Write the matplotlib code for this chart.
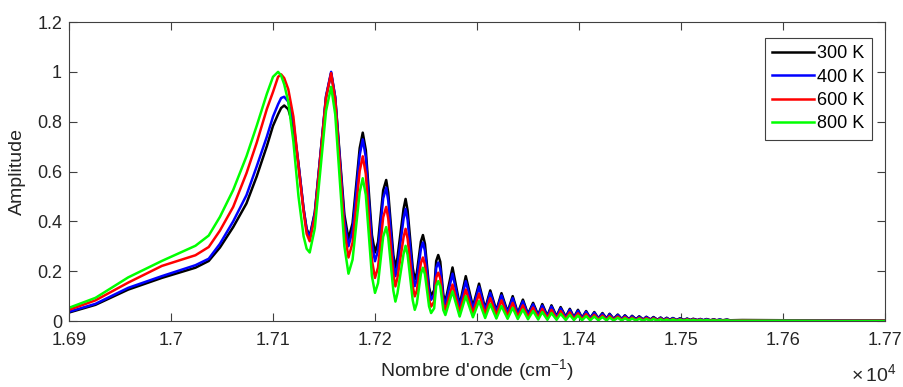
import numpy as np
import matplotlib
matplotlib.use('Agg')
import matplotlib.pyplot as plt
from matplotlib.ticker import FuncFormatter

plt.rcParams['font.family'] = ['Liberation Sans', 'DejaVu Sans']
plt.rcParams['mathtext.default'] = 'regular'

# wavenumber grid: broad rise, main peak and the first big oscillations (cm-1)
head_wn = [16900, 16926, 16958, 16991, 17024, 17037, 17048, 17061, 17074, 17084,
           17094, 17100, 17105, 17108, 17111, 17115, 17120, 17125, 17130, 17133,
           17136, 17141, 17152, 17157, 17161, 17170, 17174, 17178, 17185, 17188,
           17191, 17197, 17200, 17203, 17208, 17211, 17213, 17218, 17220, 17222,
           17228, 17230, 17232, 17237, 17239, 17241, 17245, 17247, 17249, 17253,
           17255, 17258, 17260, 17262, 17264, 17267, 17269]

head_300 = [0.034, 0.065, 0.126, 0.173, 0.214, 0.241, 0.295, 0.377, 0.472, 0.58,
            0.702, 0.783, 0.83, 0.855, 0.865, 0.85, 0.78, 0.63, 0.45, 0.37,
            0.34, 0.436, 0.899, 0.995, 0.898, 0.427, 0.33, 0.392, 0.694, 0.756,
            0.686, 0.345, 0.275, 0.317, 0.524, 0.566, 0.515, 0.265, 0.214, 0.254,
            0.450, 0.49, 0.443, 0.214, 0.167, 0.193, 0.319, 0.345, 0.309, 0.136,
            0.10, 0.124, 0.241, 0.265, 0.238, 0.105, 0.078]
head_400 = [0.037, 0.069, 0.133, 0.180, 0.224, 0.25, 0.31, 0.40, 0.505, 0.62,
            0.74, 0.82, 0.87, 0.895, 0.90, 0.88, 0.80, 0.63, 0.45, 0.365,
            0.335, 0.432, 0.903, 1.0, 0.898, 0.402, 0.30, 0.363, 0.666, 0.729,
            0.658, 0.311, 0.24, 0.283, 0.492, 0.535, 0.483, 0.232, 0.18, 0.219,
            0.411, 0.45, 0.405, 0.185, 0.14, 0.166, 0.289, 0.315, 0.281, 0.119,
            0.085, 0.107, 0.213, 0.235, 0.210, 0.091, 0.066]
head_600 = [0.045, 0.083, 0.154, 0.221, 0.264, 0.297, 0.363, 0.458, 0.593, 0.715,
            0.851, 0.919, 0.98, 0.99, 0.975, 0.93, 0.82, 0.62, 0.44, 0.35,
            0.32, 0.419, 0.896, 0.995, 0.887, 0.363, 0.255, 0.314, 0.602, 0.661,
            0.590, 0.244, 0.173, 0.215, 0.416, 0.458, 0.411, 0.186, 0.139, 0.173,
            0.336, 0.37, 0.330, 0.139, 0.099, 0.122, 0.232, 0.255, 0.226, 0.087,
            0.058, 0.078, 0.174, 0.194, 0.172, 0.067, 0.045]
head_800 = [0.053, 0.093, 0.175, 0.241, 0.302, 0.343, 0.418, 0.526, 0.661, 0.783,
            0.912, 0.98, 1.0, 0.985, 0.95, 0.88, 0.72, 0.50, 0.34, 0.29,
            0.275, 0.372, 0.843, 0.94, 0.830, 0.300, 0.19, 0.246, 0.517, 0.573,
            0.506, 0.180, 0.113, 0.152, 0.338, 0.377, 0.333, 0.122, 0.078, 0.111,
            0.269, 0.302, 0.265, 0.083, 0.045, 0.070, 0.189, 0.214, 0.187, 0.059,
            0.032, 0.051, 0.141, 0.16, 0.140, 0.044, 0.024]

# damped ripple tail: peak and trough positions
peak_wn = [17276, 17289, 17302, 17313, 17324, 17335, 17345, 17355,
           17364, 17373, 17382, 17391, 17399, 17407, 17415, 17423, 17430, 17438,
           17445, 17452, 17459, 17466, 17473, 17480, 17486, 17492, 17499, 17506,
           17512, 17519, 17525, 17532, 17538, 17545]
trough_wn = [17283, 17296, 17308, 17319, 17330, 17340, 17350, 17360,
             17369, 17378, 17387, 17395, 17403, 17411, 17419, 17427, 17434, 17442,
             17449, 17456, 17463, 17470, 17477, 17483, 17489, 17496, 17503, 17509,
             17516, 17522, 17529, 17535, 17541, 17548]

peaks_300 = [.215, .18, .15, .123, .112, .100, .086, .073,
             .068, .063, .056, .049, .045, .040, .036, .032, .029, .026,
             .023, .021, .019, .017, .016, .014, .013, .012, .011, .010,
             .009, .008, .008, .007, .006, .006]
troughs_300 = [.065, .058, .050, .042, .037, .032, .028, .024,
               .021, .019, .017, .015, .013, .012, .011, .010, .009, .008,
               .007, .007, .006, .006, .005, .005, .005, .004, .004, .004,
               .004, .003, .003, .003, .003, .003]
peaks_400 = [.19, .16, .138, .113, .103, .092, .079, .067,
             .062, .058, .051, .045, .041, .037, .033, .029, .027, .024,
             .021, .019, .017, .016, .014, .013, .012, .011, .010, .009,
             .008, .008, .007, .006, .006, .005]
troughs_400 = [.055, .048, .042, .036, .031, .027, .024, .020,
               .018, .016, .014, .013, .011, .010, .009, .008, .007, .007,
               .006, .006, .005, .005, .004, .004, .004, .003, .003, .003,
               .003, .003, .002, .002, .002, .002]
peaks_600 = [.146, .126, .11, .092, .083, .073, .063, .054,
             .049, .045, .040, .035, .031, .028, .025, .022, .020, .018,
             .016, .014, .013, .012, .011, .010, .009, .008, .007, .007,
             .006, .006, .005, .005, .004, .004]
troughs_600 = [.036, .031, .027, .023, .020, .017, .015, .013,
               .011, .010, .009, .008, .007, .006, .006, .005, .005, .004,
               .004, .003, .003, .003, .003, .002, .002, .002, .002, .002,
               .002, .001, .001, .001, .001, .001]
peaks_800 = [.119, .10, .08, .068, .060, .053, .046, .040,
             .036, .032, .029, .025, .022, .020, .018, .016, .014, .013,
             .011, .010, .009, .008, .008, .007, .006, .006, .005, .005,
             .004, .004, .004, .003, .003, .003]
troughs_800 = [.018, .015, .012, .010, .009, .008, .007, .006,
               .005, .005, .004, .004, .003, .003, .003, .002, .002, .002,
               .002, .002, .001, .001, .001, .001, .001, .001, .001, .001,
               .001, .001, .001, .001, .001, .001]

end_wn = [17560, 17600, 17650, 17700]
end_300 = [.004, .003, .002, .002]
end_400 = [.003, .002, .002, .001]
end_600 = [.002, .001, .001, .001]
end_800 = [.001, .001, .0, .0]

labels = ['300 K', '400 K', '600 K', '800 K']
colors = ['#000000', '#0000FF', '#FF0000', '#00FF00']


def assemble(head, peaks, troughs, end):
    tail_x = np.column_stack([peak_wn, trough_wn]).ravel()
    tail_y = np.column_stack([peaks, troughs]).ravel()
    x = np.concatenate([head_wn, tail_x, end_wn])
    y = np.concatenate([head, tail_y, end])
    return x, y


series = [
    assemble(head_300, peaks_300, troughs_300, end_300),
    assemble(head_400, peaks_400, troughs_400, end_400),
    assemble(head_600, peaks_600, troughs_600, end_600),
    assemble(head_800, peaks_800, troughs_800, end_800),
]

fig = plt.figure(figsize=(9.04, 3.87), dpi=100)
ax = fig.add_axes([0.0763, 0.1705, 0.9027, 0.7726])

for (x, y), lab, c in zip(series, labels, colors):
    ax.plot(x, y, color=c, lw=1.8, label=lab, solid_joinstyle='round')

ax.set_xlim(16900, 17700)
ax.set_ylim(0, 1.2)
ax.set_xticks(np.arange(16900, 17701, 100))
ax.set_yticks(np.arange(0, 1.21, 0.2))
ax.xaxis.set_major_formatter(FuncFormatter(lambda v, p: '%g' % round(v / 1e4, 4)))
ax.yaxis.set_major_formatter(FuncFormatter(lambda v, p: '%g' % round(v, 2)))

axcol = '#404040'
for s in ax.spines.values():
    s.set_color(axcol)
    s.set_linewidth(0.8)
ax.tick_params(direction='in', length=5.5, width=0.8, colors=axcol,
               labelcolor='#262626', labelsize=13, top=True, right=True)
ax.tick_params(axis='x', pad=8)
ax.tick_params(axis='y', pad=5)

ax.set_xlabel("Nombre d'onde (cm$^{-1}$)", fontsize=14, color='#262626', labelpad=6)
ax.set_ylabel('Amplitude', fontsize=14, color='#262626', labelpad=8)
ax.text(1.014, -0.14, r'$\times\,10^{4}$', transform=ax.transAxes,
        ha='right', va='top', fontsize=14, color='#262626')

leg = ax.legend(loc='upper right', bbox_to_anchor=(0.984, 0.946), borderaxespad=0,
                fontsize=13, handlelength=2.3, handletextpad=0.2, labelspacing=0.35,
                borderpad=0.4, fancybox=False, framealpha=1)
leg.get_frame().set_edgecolor(axcol)
leg.get_frame().set_linewidth(0.8)

fig.savefig('out.png', dpi=100)
